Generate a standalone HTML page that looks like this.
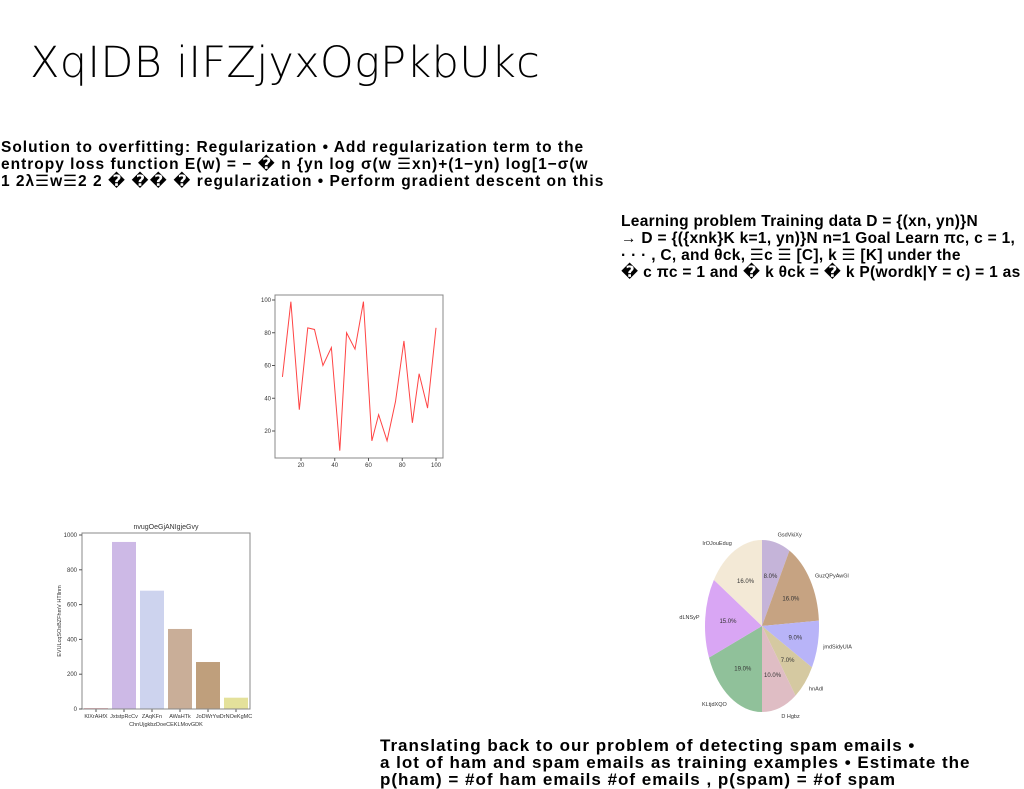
<!DOCTYPE html>
<html><head><meta charset="utf-8"><style>
body{margin:0;width:1024px;height:788px;overflow:hidden;background:#fff;position:relative;font-family:"Liberation Sans","DejaVu Sans",sans-serif}
.t{position:absolute;font-weight:bold;font-size:15.5px;line-height:17px;color:#000;white-space:nowrap}
h1{position:absolute;left:30px;top:38px;margin:0;font-size:43px;letter-spacing:0.3px;font-family:"DejaVu Sans","Liberation Sans",sans-serif;font-weight:200}
svg{position:absolute;left:0;top:0}
</style></head><body>
<h1>XqIDB iIFZjyxOgPkbUkc</h1>
<div class="t" style="left:1px;top:139px;letter-spacing:1px">Solution to overfitting: Regularization • Add regularization term to the<br>entropy loss function E(w) = − � n {yn log σ(w ☰xn)+(1−yn) log[1−σ(w<br>1 2λ☰w☰2 2 � �� � regularization • Perform gradient descent on this</div>
<div class="t" style="left:621px;top:213px;letter-spacing:0.3px">Learning problem Training data D = {(xn, yn)}N<br>→ D = {({xnk}K k=1, yn)}N n=1 Goal Learn πc, c = 1,<br>· · · , C, and θck, ☰c ☰ [C], k ☰ [K] under the<br>� c πc = 1 and � k θck = � k P(wordk|Y = c) = 1 as</div>
<div class="t" style="left:380px;top:737px;font-size:17px;letter-spacing:1px">Translating back to our problem of detecting spam emails •<br>a lot of ham and spam emails as training examples • Estimate the<br>p(ham) = #of ham emails #of emails , p(spam) = #of spam</div>
<svg id="s" width="1024" height="788"></svg>
<script>
const lineX=[9,14,19,24,28,33,38,43,47,52,57,62,66,71,76,81,86,90,95,100];
const lineY=[53,99,33,83,82,60,71,8,80,70,99,14,30,14,38,75,25,55,34,83];
const lineXTicks=[20,40,60,80,100];
const lineYTicks=[20,40,60,80,100];
const barCats=["KlXrAHfX","JxtstpRcCv","ZAqKFn","AWaHTk","JoDWrYw","DrNOeKgMC"];
const barVals=[5,960,680,460,270,65];
const barYTicks=[0,200,400,600,800,1000];
const barColors=["#e8a0a8","#cdb9e6","#cdd3ee","#c9ae98","#bf9f7c","#e4e19b"];
const pieLabels=["GsdVkiXy","GuzQPyAwGl","jmdSidyUIA","hnAdl","D Hgbz","KLtjdXQO","dLNSyP","IrOJouEdug"];
const pieVals=[8,16,9,7,10,19,15,16];
const pieColors=["#c5b4d9","#c6a382","#b8b4f8","#d5c9a1","#dfbdc4","#90c19a","#d9a6f4","#f3e9d6"];
const S=document.getElementById('s');const NS="http://www.w3.org/2000/svg";
function el(t,a,p){const e=document.createElementNS(NS,t);for(const k in a)e.setAttribute(k,a[k]);(p||S).appendChild(e);return e;}
function tx(x,y,s,a,p){const e=el('text',Object.assign({x:x,y:y,'font-size':6,fill:'#333','font-family':'Liberation Sans, sans-serif'},a||{}),p);e.textContent=s;return e;}
const lx=v=>301+(v-20)*(436-301)/80, ly=v=>431-(v-20)*(431-300)/80;
let g=el('g',{});
let r=el('rect',{x:275,y:295,width:168,height:163,fill:'none',stroke:'#888','stroke-width':1},g);

lineXTicks.forEach(v=>{el('line',{x1:lx(v),x2:lx(v),y1:458,y2:461,stroke:'#555'},g);let t=tx(lx(v),467,v,{'text-anchor':'middle'},g);});
lineYTicks.forEach(v=>{el('line',{x1:272,x2:275,y1:ly(v),y2:ly(v),stroke:'#555'},g);let t=tx(271,ly(v)+2,v,{'text-anchor':'end'},g);});
let pl=el('polyline',{points:lineX.map((x,i)=>lx(x)+','+ly(lineY[i])).join(' '),fill:'none',stroke:'#f44','stroke-width':1},g);

const by=v=>709-v*(709-535)/1000;const bw=168/6;
g=el('g',{});
barVals.forEach((v,i)=>{const x=82+i*bw;let b=el('rect',{x:x+2,y:by(v),width:bw-4,height:709-by(v),fill:barColors[i]},g);
el('line',{x1:x+bw/2,x2:x+bw/2,y1:709,y2:712,stroke:'#555'},g);let t=tx(x+bw/2,718,barCats[i],{'text-anchor':'middle','font-size':5.5},g);});
r=el('rect',{x:82,y:533,width:168,height:176,fill:'none',stroke:'#888'},g);
barYTicks.forEach(v=>{el('line',{x1:79,x2:82,y1:by(v),y2:by(v),stroke:'#555'},g);let t=tx(77,by(v)+2,v,{'text-anchor':'end'},g);});
let t=tx(166,529,'nvugOeGjANIgjeGvy',{'text-anchor':'middle','font-size':7},g);
t=tx(166,726,'ChnUjgkbzDoeCEKLMovGDK',{'text-anchor':'middle','font-size':5.5},g);
t=tx(0,0,'EVULcqSOsBZFhmV HTllnm',{'text-anchor':'middle','font-size':5.5,transform:'translate(61,621) rotate(-90)'},g);
const cx=762,cy=626,rx=57,ry=86;const tot=pieVals.reduce((a,b)=>a+b,0);let acc=0;
g=el('g',{});
pieVals.forEach((v,i)=>{const a0=Math.PI/2-acc/tot*2*Math.PI;acc+=v;const a1=Math.PI/2-acc/tot*2*Math.PI;
const p=a=>[cx+rx*Math.cos(a),cy-ry*Math.sin(a)];const [x0,y0]=p(a0),[x1,y1]=p(a1);
let s=el('path',{d:`M${cx},${cy}L${x0},${y0}A${rx},${ry} 0 ${v/tot>0.5?1:0} 1 ${x1},${y1}Z`,fill:pieColors[i]},g);
const am=(a0+a1)/2;let q=tx(cx+rx*0.6*Math.cos(am),cy-ry*0.6*Math.sin(am)+2,v.toFixed(1)+'%',{'text-anchor':'middle','font-size':6},g);
const c=Math.cos(am);q=tx(cx+rx*1.1*c,cy-ry*1.1*Math.sin(am)+2,pieLabels[i],{'text-anchor':c>0.1?'start':(c<-0.1?'end':'middle'),'font-size':5.5},g);});
</script>
</body></html>
